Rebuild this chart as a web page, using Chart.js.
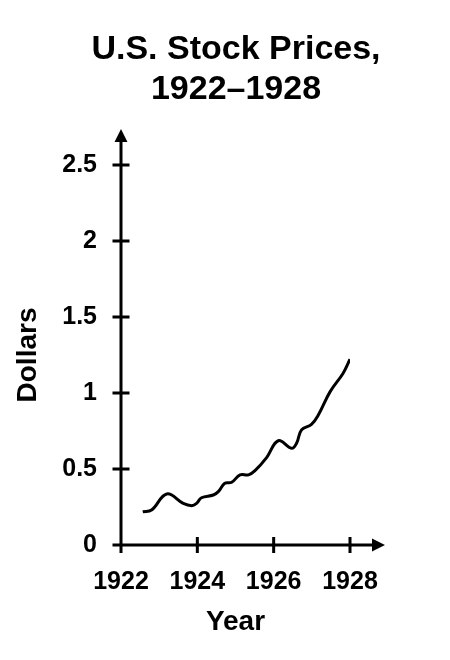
<!DOCTYPE html>
<html>
<head>
<meta charset="utf-8">
<script src="https://cdn.jsdelivr.net/npm/chart.js@4.4.1/dist/chart.umd.min.js"></script>
<style>
  html, body { margin: 0; padding: 0; background: #fff; }
  #wrap { width: 450px; height: 660px; }
</style>
</head>
<body>
<div id="wrap"><canvas id="stockChart"></canvas></div>
<script>
// values (year, price in dollars)
const years  = [1922.57, 1922.80, 1923.20, 1923.63, 1923.85, 1923.98, 1924.11, 1924.42, 1924.55, 1924.72, 1924.90, 1925.12,
                1925.34, 1925.51, 1925.82, 1926.12, 1926.47, 1926.60, 1926.73, 1926.99, 1927.17, 1927.48, 1927.82, 1928.00];
const prices = [0.219, 0.230, 0.336, 0.274, 0.259, 0.274, 0.311, 0.329, 0.351, 0.406, 0.413, 0.461,
                0.461, 0.489, 0.577, 0.686, 0.636, 0.669, 0.757, 0.794, 0.855, 1.009, 1.130, 1.222];
const xTicks = [1922, 1924, 1926, 1928];
const yTicks = [0, 0.5, 1, 1.5, 2, 2.5];

const FONT = '"Liberation Sans", Arial, Helvetica, sans-serif';

// axis lines with arrow heads, tick marks crossing the axis
const axisArrows = {
  id: 'axisArrows',
  afterDraw(chart) {
    const { ctx, chartArea: a, scales: { x, y } } = chart;
    ctx.save();
    ctx.strokeStyle = '#000';
    ctx.fillStyle = '#000';
    ctx.lineWidth = 3;
    ctx.lineCap = 'butt';

    ctx.beginPath();
    ctx.moveTo(a.left, a.bottom + 8);
    ctx.lineTo(a.left, a.top - 26);
    ctx.moveTo(a.left - 8, a.bottom);
    ctx.lineTo(a.right + 25, a.bottom);
    yTicks.forEach(v => {
      const py = y.getPixelForValue(v);
      ctx.moveTo(a.left - 8.5, py);
      ctx.lineTo(a.left + 8.5, py);
    });
    xTicks.forEach(v => {
      const px = x.getPixelForValue(v);
      ctx.moveTo(px, a.bottom - 8);
      ctx.lineTo(px, a.bottom + 8);
    });
    ctx.stroke();

    // arrow heads
    ctx.beginPath();
    ctx.moveTo(a.left, a.top - 36);
    ctx.lineTo(a.left - 6.5, a.top - 23);
    ctx.lineTo(a.left + 6.5, a.top - 23);
    ctx.closePath();
    ctx.moveTo(a.right + 35, a.bottom);
    ctx.lineTo(a.right + 22, a.bottom - 6.5);
    ctx.lineTo(a.right + 22, a.bottom + 6.5);
    ctx.closePath();
    ctx.fill();
    ctx.restore();
  }
};

new Chart(document.getElementById('stockChart'), {
  type: 'line',
  data: {
    datasets: [{
      data: years.map((yr, i) => ({ x: yr, y: prices[i] })),
      borderColor: '#000',
      borderWidth: 3,
      pointRadius: 0,
      tension: 0.4,
      fill: false
    }]
  },
  options: {
    responsive: true,
    maintainAspectRatio: false,
    animation: false,
    layout: { padding: { left: 22 } },
    plugins: {
      legend: { display: false },
      tooltip: { enabled: false },
      title: {
        display: true,
        text: ['U.S. Stock Prices,', '1922–1928'],
        color: '#000',
        font: { family: FONT, size: 34, weight: 'bold', lineHeight: 40 / 34 },
        padding: { top: 30, bottom: 55 }
      }
    },
    scales: {
      x: {
        type: 'linear',
        min: 1922,
        max: 1928,
        afterBuildTicks: s => { s.ticks = xTicks.map(v => ({ value: v })); },
        afterFit: s => { s.height = 115; },
        grid: { display: false, drawTicks: false },
        border: { display: false },
        ticks: {
          color: '#000',
          padding: 22,
          maxRotation: 0,
          autoSkip: false,
          font: { family: FONT, size: 25, weight: 'bold' },
          callback: v => String(v)
        },
        title: {
          display: true,
          text: 'Year',
          color: '#000',
          font: { family: FONT, size: 28, weight: 'bold' },
          padding: { top: 0, bottom: 21 }
        }
      },
      y: {
        type: 'linear',
        min: 0,
        max: 2.5,
        afterBuildTicks: s => { s.ticks = yTicks.map(v => ({ value: v })); },
        afterFit: s => { s.width = 99; },
        grid: { display: false, drawTicks: false },
        border: { display: false },
        ticks: {
          color: '#000',
          padding: 24,
          autoSkip: false,
          font: { family: FONT, size: 25, weight: 'bold' },
          callback: v => String(v)
        },
        title: {
          display: true,
          text: 'Dollars',
          color: '#000',
          font: { family: FONT, size: 28, weight: 'bold' },
          padding: { top: -11, bottom: 0 }
        }
      },
      // empty right-hand space so the plot ends at 1928 like the original
      yPad: {
        type: 'linear',
        position: 'right',
        afterFit: s => { s.width = 100; },
        grid: { display: false, drawTicks: false },
        border: { display: false },
        ticks: { display: false }
      }
    }
  },
  plugins: [axisArrows]
});
</script>
</body>
</html>
